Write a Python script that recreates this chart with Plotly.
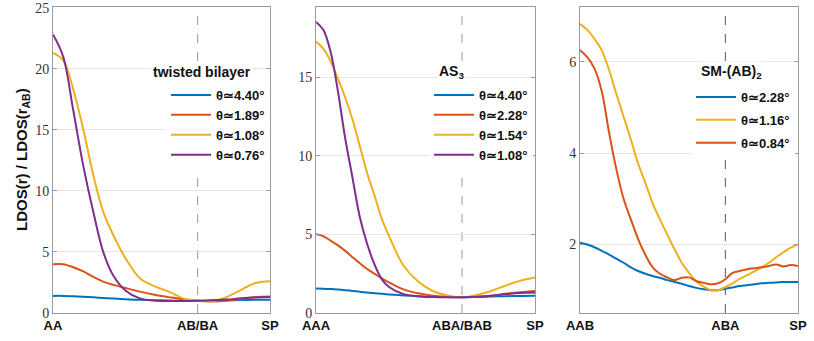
import plotly.graph_objects as go

# ---- data (x: 0 = stacking centre, 1 = AB point, 1.5 = SP) ----
x_tb = [0, 0.07, 0.14, 0.21, 0.28, 0.35, 0.42, 0.5, 0.6, 0.7, 0.8, 0.9, 1.0, 1.1, 1.2, 1.3, 1.4, 1.5]
tb_440 = [1.4, 1.4, 1.37, 1.33, 1.28, 1.23, 1.18, 1.13, 1.08, 1.05, 1.02, 1.0, 1.0, 1.02, 1.04, 1.06, 1.08, 1.08]
tb_189 = [4.0, 4.0, 3.75, 3.4, 2.95, 2.55, 2.3, 2.05, 1.75, 1.5, 1.3, 1.12, 1.0, 0.95, 1.0, 1.15, 1.3, 1.35]
tb_108 = [21.3, 20.7, 18.3, 15.0, 11.2, 8.2, 6.3, 4.5, 2.85, 2.2, 1.75, 1.2, 1.0, 0.97, 1.3, 1.9, 2.45, 2.6]
tb_076 = [22.8, 21.0, 16.6, 12.0, 8.2, 4.9, 3.0, 1.85, 1.2, 1.02, 0.98, 0.98, 1.0, 1.05, 1.1, 1.2, 1.27, 1.3]

x_as = [0, 0.05, 0.1, 0.15, 0.2, 0.25, 0.3, 0.35, 0.4, 0.45, 0.5, 0.6, 0.7, 0.8, 0.9, 1.0, 1.1, 1.2, 1.3, 1.4, 1.5]
as_440 = [1.55, 1.54, 1.52, 1.49, 1.45, 1.4, 1.35, 1.3, 1.26, 1.22, 1.18, 1.12, 1.07, 1.03, 1.01, 1.0, 1.02, 1.05, 1.07, 1.08, 1.1]
as_228 = [5.0, 4.88, 4.6, 4.3, 3.95, 3.55, 3.16, 2.8, 2.5, 2.2, 1.95, 1.5, 1.25, 1.1, 1.03, 1.0, 1.03, 1.1, 1.22, 1.32, 1.4]
as_154 = [17.25, 16.8, 16.0, 14.9, 13.7, 12.3, 10.6, 8.9, 7.5, 6.0, 4.9, 3.0, 2.0, 1.4, 1.12, 1.0, 1.15, 1.4, 1.75, 2.05, 2.25]
as_108 = [18.5, 18.0, 16.6, 14.1, 11.1, 8.6, 6.1, 4.4, 3.1, 2.15, 1.65, 1.2, 1.07, 1.02, 1.0, 1.0, 1.03, 1.1, 1.2, 1.27, 1.3]

x_sm = [0, 0.05, 0.1, 0.15, 0.2, 0.25, 0.3, 0.35, 0.4, 0.45, 0.5, 0.55, 0.6, 0.65, 0.7, 0.75,
        0.8, 0.85, 0.9, 0.95, 1.0, 1.05, 1.1, 1.15, 1.2, 1.25, 1.3, 1.35, 1.4, 1.45, 1.5]
sm_228 = [2.04, 2.0, 1.94, 1.86, 1.78, 1.69, 1.6, 1.5, 1.42, 1.36, 1.31, 1.27, 1.22, 1.18, 1.14, 1.09,
          1.05, 1.02, 1.0, 1.0, 1.03, 1.06, 1.09, 1.11, 1.13, 1.15, 1.16, 1.17, 1.18, 1.18, 1.18]
sm_116 = [6.83, 6.7, 6.5, 6.25, 5.82, 5.3, 4.8, 4.3, 3.77, 3.35, 2.9, 2.55, 2.22, 1.9, 1.6, 1.38,
          1.19, 1.08, 1.0, 1.0, 1.07, 1.15, 1.25, 1.33, 1.41, 1.5, 1.6, 1.72, 1.83, 1.93, 2.0]
sm_084 = [6.26, 6.1, 5.85, 5.35, 4.45, 3.65, 3.0, 2.55, 2.12, 1.77, 1.5, 1.36, 1.28, 1.22, 1.27, 1.28,
          1.2, 1.16, 1.13, 1.15, 1.24, 1.38, 1.42, 1.46, 1.48, 1.5, 1.53, 1.56, 1.52, 1.55, 1.53]

tick_vals = [0, 1, 1.5]
tb_ticks = ['AA', 'AB/BA', 'SP']
as_ticks = ['AAA', 'ABA/BAB', 'SP']
sm_ticks = ['AAB', 'ABA', 'SP']

BLUE, RED, YELLOW, PURPLE = '#0072BD', '#D95319', '#EDB120', '#7E2F8E'

W, H = 814, 341
TOP, BOTTOM = 7, 313


def py(v):
    # pixel row -> paper y (plot area spans rows TOP..BOTTOM)
    return (BOTTOM - v) / (BOTTOM - TOP)


panels = [
    dict(dom=(53, 270), yr=[0, 25.05], dt=5, x=x_tb, ticks=tb_ticks,
         series=[(tb_440, BLUE, 'θ≃4.40°'), (tb_189, RED, 'θ≃1.89°'),
                 (tb_108, YELLOW, 'θ≃1.08°'), (tb_076, PURPLE, 'θ≃0.76°')],
         title='<b>twisted bilayer</b>', tx=151, ty=72, lx=166, ly=80, gap=0, vcol='#9a9a9a'),
    dict(dom=(316, 535), yr=[0, 19.45], dt=5, x=x_as, ticks=as_ticks,
         series=[(as_440, BLUE, 'θ≃4.40°'), (as_228, RED, 'θ≃2.28°'),
                 (as_154, YELLOW, 'θ≃1.54°'), (as_108, PURPLE, 'θ≃1.08°')],
         title='<b>AS<sub>3</sub></b>', tx=437, ty=72, lx=429, ly=80, gap=0, vcol='#9a9a9a'),
    dict(dom=(580, 798), yr=[0.5, 7.2], dt=2, x=x_sm, ticks=sm_ticks,
         series=[(sm_228, BLUE, 'θ≃2.28°'), (sm_116, YELLOW, 'θ≃1.16°'),
                 (sm_084, RED, 'θ≃0.84°')],
         title='<b>SM-(AB)<sub>2</sub></b>', tx=699, ty=72, lx=691, ly=82, gap=3, vcol='#555555'),
]

fig = go.Figure()
layout = {}
for i, p in enumerate(panels, start=1):
    xa = 'x' if i == 1 else f'x{i}'
    ya = 'y' if i == 1 else f'y{i}'
    lg = 'legend' if i == 1 else f'legend{i}'
    for k, (vals, col, name) in enumerate(p['series']):
        fig.add_trace(go.Scatter(
            x=p['x'], y=vals, mode='lines', name=name, line=dict(color=col, width=2, shape='spline'),
            xaxis=xa, yaxis=ya, legend=lg, legendgroup=f'{i}-{k}'))

    suffix = '' if i == 1 else str(i)
    layout[f'xaxis{suffix}'] = dict(
        domain=[p['dom'][0] / W, p['dom'][1] / W], range=[0, 1.5], anchor=ya, automargin=False,
        tickvals=tick_vals, ticktext=p['ticks'], showgrid=False, zeroline=False,
        showline=True, mirror=True, linecolor='#9a9a9a', linewidth=1, ticks='',
        tickfont=dict(family='Liberation Sans', size=13, color='#111', weight='bold'))
    layout[f'yaxis{suffix}'] = dict(
        domain=[0, 1], range=p['yr'], anchor=xa, dtick=p['dt'], tick0=0, automargin=False,
        showgrid=True, gridcolor='#e6e6e6', zeroline=False,
        showline=True, mirror='ticks', linecolor='#9a9a9a', linewidth=1,
        ticks='inside', ticklen=4, tickcolor='#9a9a9a',
        tickfont=dict(family='Liberation Serif', size=14, color='#333'))
    layout[lg] = dict(
        x=p['lx'] / W, y=py(p['ly']), xanchor='left', yanchor='top',
        bgcolor='rgba(255,255,255,1)', borderwidth=0, itemwidth=40, tracegroupgap=p['gap'],
        font=dict(family='Liberation Sans', size=13, color='#111', weight='bold'))

    fig.add_shape(type='line', xref=xa, yref=f'{ya} domain', x0=1, x1=1, y0=0, y1=1,
                  line=dict(color=p['vcol'], width=1, dash='dash'), layer='below')
    fig.add_annotation(text=p['title'], xref='paper', yref='paper', x=p['tx'] / W, y=py(p['ty']),
                       xanchor='left', yanchor='middle', showarrow=False, bgcolor='white',
                       font=dict(family='Liberation Sans', size=14, color='#111'))

fig.add_annotation(text='<b>LDOS(r) / LDOS(r<sub>AB</sub>)</b>', xref='paper', yref='paper',
                   x=22 / W, y=0.5, xanchor='center', yanchor='middle', textangle=-90,
                   showarrow=False, font=dict(family='Liberation Sans', size=15, color='#111'))

fig.update_layout(
    width=W, height=H, margin=dict(l=0, r=0, t=TOP, b=H - BOTTOM, autoexpand=False),
    plot_bgcolor='white', paper_bgcolor='white', showlegend=True, **layout)

# the page body keeps its default 8px margin otherwise
fig.write_html('out.html', config={'displayModeBar': False},
               post_script="document.body.style.margin='0';")
